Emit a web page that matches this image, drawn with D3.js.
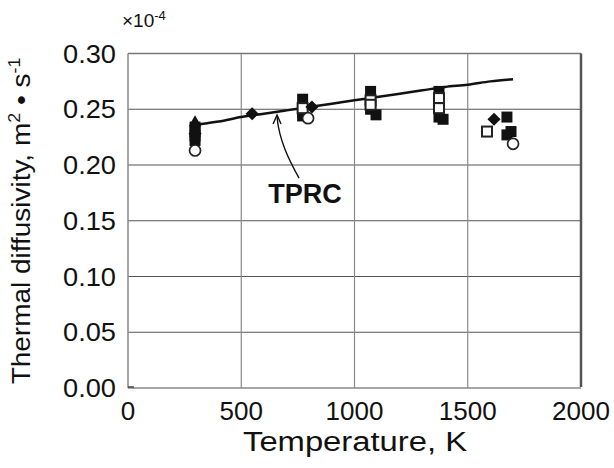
<!DOCTYPE html>
<html><head><meta charset="utf-8">
<script src="https://cdn.jsdelivr.net/npm/d3@7"></script>
<style>body{margin:0;background:#fff}svg{display:block}text{font-family:"Liberation Sans",Arial,sans-serif;fill:#111}</style>
</head><body><svg id="c" width="614" height="468"></svg>
<script>
const xTicks=[0,500,1000,1500,2000];
const yTicks=[0.00,0.05,0.10,0.15,0.20,0.25,0.30];
const tprcT=[315,350,400,500,600,700,800,900,1000,1100,1200,1300,1400,1500,1600,1700];
const tprcV=[0.2365,0.2375,0.239,0.243,0.246,0.249,0.252,0.255,0.258,0.261,0.264,0.267,0.270,0.272,0.275,0.277];
const filledSquareT=[296,296,296,296,771,771,771,1071,1071,1095,1373,1373,1391,1673,1673,1691];
const filledSquareV=[0.234,0.230,0.226,0.222,0.259,0.247,0.244,0.266,0.250,0.245,0.266,0.243,0.241,0.243,0.227,0.230];
const openSquareT=[771,1071,1071,1373,1373,1585];
const openSquareV=[0.251,0.258,0.254,0.260,0.251,0.230];
const diamondT=[296,548,812,1616];
const diamondV=[0.228,0.246,0.252,0.241];
const circleT=[296,795,1700];
const circleV=[0.213,0.242,0.219];
const triangleT=[296];
const triangleV=[0.238];

const svg=d3.select("#c");
const x=d3.scaleLinear().domain([0,2000]).range([128,581]);
const y=d3.scaleLinear().domain([0,0.30]).range([388,53.5]);

// grid
svg.append("g").selectAll("line").data(yTicks.slice(1,-1)).join("line")
 .attr("x1",x(0)).attr("x2",x(2000)).attr("y1",d=>y(d)).attr("y2",d=>y(d))
 .attr("stroke","#555").attr("stroke-width",1.2);
svg.append("g").selectAll("line").data(xTicks.slice(1,-1)).join("line")
 .attr("y1",y(0)).attr("y2",y(0.30)).attr("x1",d=>x(d)).attr("x2",d=>x(d))
 .attr("stroke","#8a8a8a").attr("stroke-width",1.2);
// frame
svg.append("line").attr("x1",x(0)).attr("x2",x(2000)).attr("y1",y(0.30)).attr("y2",y(0.30)).attr("stroke","#777").attr("stroke-width",1.5);
svg.append("line").attr("x1",x(0)).attr("x2",x(2000)).attr("y1",y(0)).attr("y2",y(0)).attr("stroke","#888").attr("stroke-width",1.5);
svg.append("line").attr("x1",x(0)).attr("x2",x(0)).attr("y1",y(0)).attr("y2",y(0.30)).attr("stroke","#888").attr("stroke-width",1.5);
svg.append("line").attr("x1",x(2000)).attr("x2",x(2000)).attr("y1",y(0)-1).attr("y2",y(0.30)).attr("stroke","#555").attr("stroke-width",2.5);
svg.append("line").attr("x1",x(0)).attr("x2",x(0)+6).attr("y1",y(0)-1).attr("y2",y(0)-1).attr("stroke","#444").attr("stroke-width",1.5);

// tick labels
svg.append("g").selectAll("text").data(yTicks).join("text")
 .attr("x",116).attr("y",d=>y(d)).attr("dy","0.36em").attr("text-anchor","end")
 .attr("font-size",25).attr("textLength",53).attr("lengthAdjust","spacingAndGlyphs").text(d=>d.toFixed(2));
svg.append("g").selectAll("text").data(xTicks).join("text")
 .attr("x",d=>x(d)).attr("y",411).attr("dy","0.36em").attr("text-anchor","middle")
 .attr("font-size",26).text(d=>d);
svg.append("text").attr("x",355).attr("y",451).attr("text-anchor","middle").attr("font-size",27)
 .attr("textLength",224).attr("lengthAdjust","spacingAndGlyphs").text("Temperature, K");
const ylg=svg.append("g");
const yl=ylg.append("text").attr("text-anchor","middle").attr("font-size",25);
yl.append("tspan").text("Thermal diffusivity, m");
yl.append("tspan").attr("font-size",16).attr("dy",-10).text("2");
yl.append("tspan").attr("dy",10).text(" • s");
yl.append("tspan").attr("font-size",16).attr("dy",-10).text("-1");
const ylw=yl.node().getBBox().width;
ylg.attr("transform",`translate(30,221) rotate(-90) scale(${327/ylw},1)`);
const ex=svg.append("text").attr("x",122).attr("y",27).attr("font-size",19);
ex.append("tspan").text("×10");
ex.append("tspan").attr("font-size",13).attr("dy",-7).text("-4");

// TPRC line
svg.append("path").datum(tprcT.map((t,i)=>[t,tprcV[i]]))
 .attr("d",d3.line().x(d=>x(d[0])).y(d=>y(d[1])).curve(d3.curveMonotoneX))
 .attr("fill","none").attr("stroke","#111").attr("stroke-width",2.5);

// markers
const s=11;
svg.append("g").selectAll("rect").data(filledSquareT.map((t,i)=>[t,filledSquareV[i]])).join("rect")
 .attr("x",d=>x(d[0])-s/2).attr("y",d=>y(d[1])-s/2).attr("width",s).attr("height",s).attr("fill","#111");
svg.append("g").selectAll("rect").data(openSquareT.map((t,i)=>[t,openSquareV[i]])).join("rect")
 .attr("x",d=>x(d[0])-5).attr("y",d=>y(d[1])-5).attr("width",10).attr("height",10).attr("fill","#fff").attr("stroke","#222").attr("stroke-width",2);
svg.append("g").selectAll("path").data(diamondT.map((t,i)=>[t,diamondV[i]])).join("path")
 .attr("transform",d=>`translate(${x(d[0])},${y(d[1])})`)
 .attr("d",d3.symbol(d3.symbolDiamond2,110)).attr("fill","#111");
svg.append("g").selectAll("circle").data(circleT.map((t,i)=>[t,circleV[i]])).join("circle")
 .attr("cx",d=>x(d[0])).attr("cy",d=>y(d[1])).attr("r",5.5).attr("fill","#fff").attr("stroke","#222").attr("stroke-width",1.7);
svg.append("g").selectAll("path").data(triangleT.map((t,i)=>[t,triangleV[i]])).join("path")
 .attr("transform",d=>`translate(${x(d[0])},${y(d[1])})`)
 .attr("d",d3.symbol(d3.symbolTriangle,70)).attr("fill","#111");

// annotation
svg.append("text").attr("x",305).attr("y",203).attr("text-anchor","middle").attr("font-size",27).attr("font-weight","bold").text("TPRC");
const ax=x(658), ay=y(0.2475)+3;
svg.append("path").attr("d",`M${ax+22},${ay+63} C${ax+12},${ay+45} ${ax+2},${ay+25} ${ax},${ay+2}`)
 .attr("fill","none").attr("stroke","#111").attr("stroke-width",1.4);
svg.append("path").attr("d",`M${ax-4},${ay+9} L${ax},${ay} L${ax+4},${ay+9}`).attr("fill","none").attr("stroke","#111").attr("stroke-width",1.4);
</script></body></html>
